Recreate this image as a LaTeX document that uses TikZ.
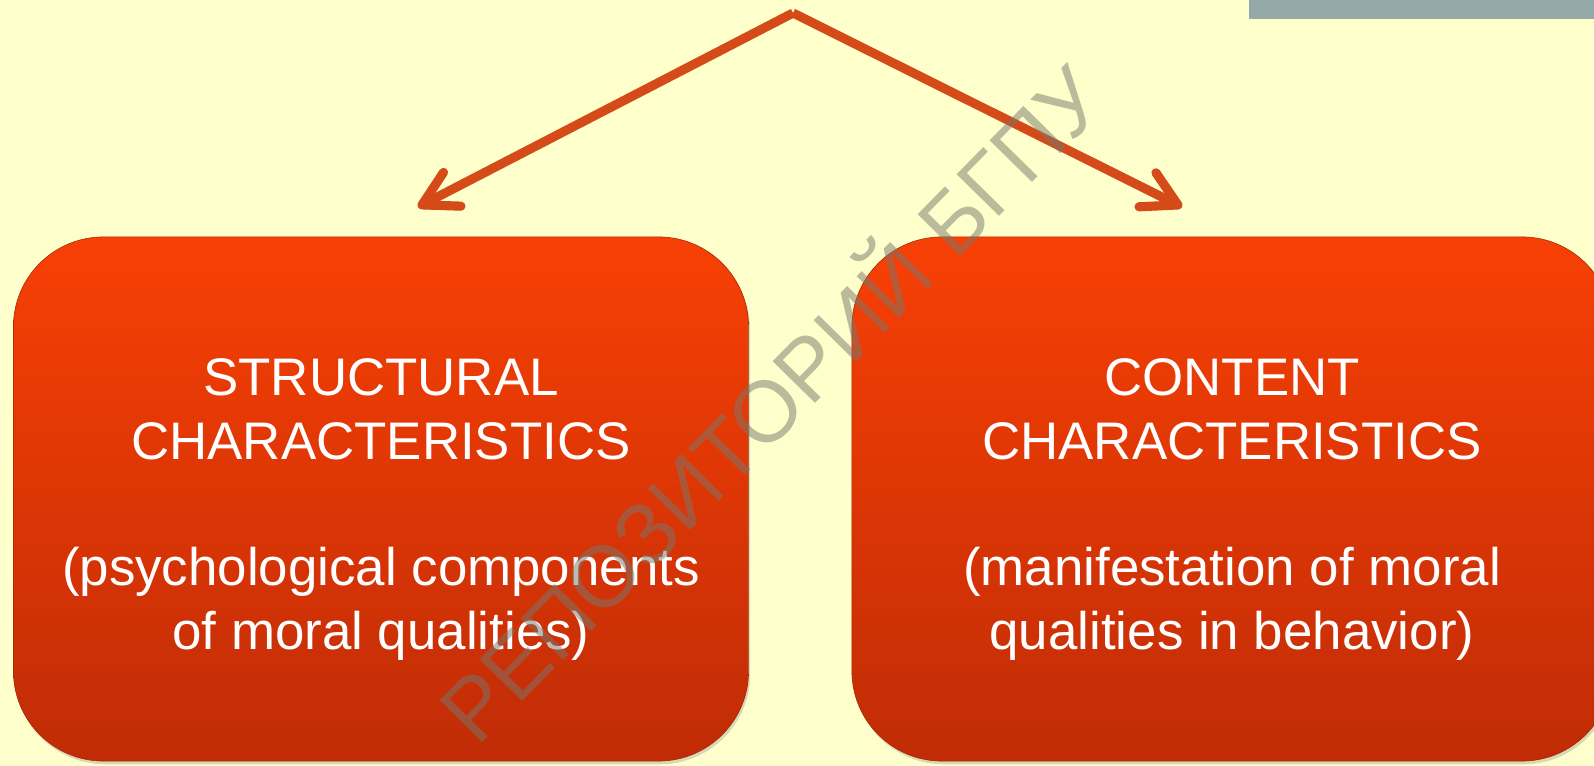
\documentclass[tikz,border=0pt]{standalone}
\usepackage{fontspec}
\setmainfont{Liberation Sans}
\usetikzlibrary{arrows.meta, positioning, shadows}
\definecolor{cream}{RGB}{255,255,204}
\definecolor{boxtop}{RGB}{248,64,5}
\definecolor{boxbot}{RGB}{192,44,6}
\definecolor{arrowred}{RGB}{212,74,24}
\definecolor{bargray}{RGB}{148,169,167}
\definecolor{markgray}{RGB}{120,120,110}

\tikzset{
  charbox/.style={rounded corners=2.25cm, top color=boxtop, bottom color=boxbot,
    draw=boxbot!85!black, line width=0.4pt, minimum height=13.1cm, align=center,
    text=white, font=\fontsize{37.6}{45}\selectfont,
    drop shadow={shadow xshift=0.04cm, shadow yshift=-0.08cm, opacity=0.3}},
  branch/.style={arrowred, line width=6.5pt,
    -{Straight Barb[round, length=0.85cm, width=0.95cm]},
    preaction={draw, black, opacity=0.12, transform canvas={shift={(1pt,-3pt)}}}}
}

\begin{document}
\begin{tikzpicture}[x=0.025cm, y=-0.025cm]
  \fill[cream] (0,0) rectangle (1594,766);
  \useasboundingbox (0,0) rectangle (1594,766);
  \fill[bargray] (1249,0) rectangle (1594,19);

  % Two kinds of characteristics
  \node[charbox, minimum width=18.375cm] (structural) at (381,499) {\rule{0pt}{1.45cm}STRUCTURAL\\CHARACTERISTICS\\[45pt](psychological components\\of moral qualities)};
  \node[charbox, minimum width=19cm] (content) at (1232,499) {\rule{0pt}{1.45cm}CONTENT\\CHARACTERISTICS\\[45pt](manifestation of moral\\qualities in behavior)};

  % Branching arrows
  \coordinate (apex) at (793,13);
  \coordinate (tipL) at (418,207);
  \coordinate (tipR) at (1182,207);
  \draw[branch] (apex) -- (tipL);
  \draw[branch] (apex) -- (tipR);

  % Watermark
  \node[rotate=45.5, text=markgray, text opacity=0.5, font=\fontsize{61.5}{72}\selectfont] (mark) at (766,399) {РЕПОЗИТОРИЙ БГПУ};
\end{tikzpicture}
\end{document}
